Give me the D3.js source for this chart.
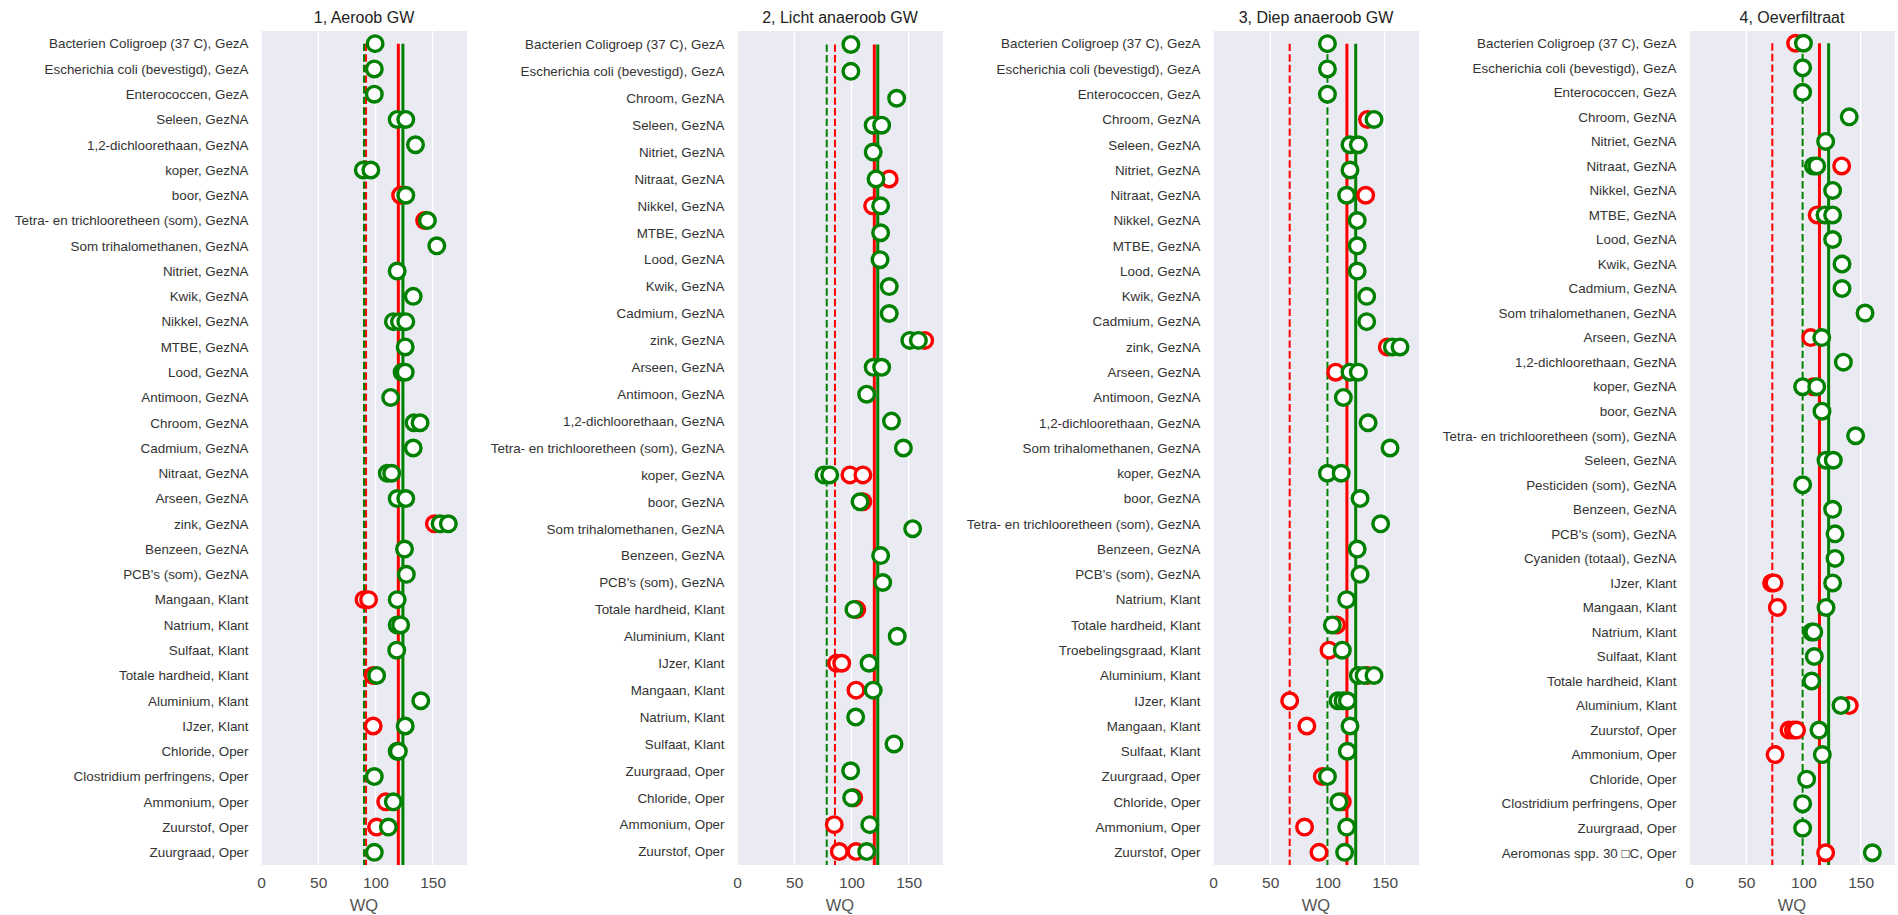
<!DOCTYPE html>
<html>
<head>
<meta charset="utf-8">
<script src="https://cdn.jsdelivr.net/npm/d3@7"></script>
<style>
  html, body { margin: 0; padding: 0; background: #ffffff; }
  svg { display: block; }
  .ylab text { font-family: "Liberation Sans", Arial, sans-serif; font-size: 13.4px; fill: #333333; }
  .xax text { font-family: "Liberation Sans", Arial, sans-serif; font-size: 15.5px; fill: #4a4a4a; }
  .title { font-family: "Liberation Sans", Arial, sans-serif; font-size: 16px; fill: #222222; }
  .xlabel { font-family: "Liberation Sans", Arial, sans-serif; font-size: 16.5px; fill: #555555; }
</style>
</head>
<body>
<svg id="chart" width="1898" height="915"></svg>
<script>
// ---- data ---------------------------------------------------------------
const panelTitles = ["1, Aeroob GW", "2, Licht anaeroob GW", "3, Diep anaeroob GW", "4, Oeverfiltraat"];
const xTicks = [0, 50, 100, 150];

const cats1 = [
  "Bacterien Coligroep (37 C), GezA", "Escherichia coli (bevestigd), GezA", "Enterococcen, GezA",
  "Seleen, GezNA", "1,2-dichloorethaan, GezNA", "koper, GezNA", "boor, GezNA",
  "Tetra- en trichlooretheen (som), GezNA", "Som trihalomethanen, GezNA", "Nitriet, GezNA",
  "Kwik, GezNA", "Nikkel, GezNA", "MTBE, GezNA", "Lood, GezNA", "Antimoon, GezNA",
  "Chroom, GezNA", "Cadmium, GezNA", "Nitraat, GezNA", "Arseen, GezNA", "zink, GezNA",
  "Benzeen, GezNA", "PCB's (som), GezNA", "Mangaan, Klant", "Natrium, Klant", "Sulfaat, Klant",
  "Totale hardheid, Klant", "Aluminium, Klant", "IJzer, Klant", "Chloride, Oper",
  "Clostridium perfringens, Oper", "Ammonium, Oper", "Zuurstof, Oper", "Zuurgraad, Oper"
];
const red1 = [[], [], [], [], [], [], [122], [143], [], [], [], [], [], [], [], [], [], [], [], [151.5],
  [], [], [90, 94], [], [], [98], [], [98], [], [], [109], [101], []];
const green1 = [[99.7], [99], [99], [119, 126.5], [135], [89.4, 96], [126.5], [145.4], [153.6], [119],
  [133], [115.7, 121, 126.5], [126], [123.3, 126], [113.3], [133.7, 139], [133], [110.4, 114.2],
  [119, 126.5], [156.5, 163.7], [125.4], [127], [119], [119, 122], [118.6], [101], [139.6], [126],
  [119, 120], [99], [115.6], [111.3], [99]];

const cats2 = [
  "Bacterien Coligroep (37 C), GezA", "Escherichia coli (bevestigd), GezA", "Chroom, GezNA",
  "Seleen, GezNA", "Nitriet, GezNA", "Nitraat, GezNA", "Nikkel, GezNA", "MTBE, GezNA",
  "Lood, GezNA", "Kwik, GezNA", "Cadmium, GezNA", "zink, GezNA", "Arseen, GezNA",
  "Antimoon, GezNA", "1,2-dichloorethaan, GezNA", "Tetra- en trichlooretheen (som), GezNA",
  "koper, GezNA", "boor, GezNA", "Som trihalomethanen, GezNA", "Benzeen, GezNA",
  "PCB's (som), GezNA", "Totale hardheid, Klant", "Aluminium, Klant", "IJzer, Klant",
  "Mangaan, Klant", "Natrium, Klant", "Sulfaat, Klant", "Zuurgraad, Oper", "Chloride, Oper",
  "Ammonium, Oper", "Zuurstof, Oper"
];
const red2 = [[], [], [], [], [], [133], [118.5], [], [], [], [], [164], [], [], [], [],
  [98.7, 110], [110], [], [], [], [104.6], [], [87, 91.5], [104], [], [], [], [102], [85], [89.4, 104]];
const green2 = [[99.5], [99.5], [139.5], [119, 126.4], [119], [121.5], [125.5], [125.5], [125], [133],
  [133], [151, 158.5], [119, 126.4], [113.3], [135], [145.4], [76, 81], [107.5], [153.5], [125.5],
  [127.3], [102.2], [140], [115.4], [119], [103.7], [137.2], [99.3], [100.2], [116], [113.3]];

const cats3 = [
  "Bacterien Coligroep (37 C), GezA", "Escherichia coli (bevestigd), GezA", "Enterococcen, GezA",
  "Chroom, GezNA", "Seleen, GezNA", "Nitriet, GezNA", "Nitraat, GezNA", "Nikkel, GezNA",
  "MTBE, GezNA", "Lood, GezNA", "Kwik, GezNA", "Cadmium, GezNA", "zink, GezNA", "Arseen, GezNA",
  "Antimoon, GezNA", "1,2-dichloorethaan, GezNA", "Som trihalomethanen, GezNA", "koper, GezNA",
  "boor, GezNA", "Tetra- en trichlooretheen (som), GezNA", "Benzeen, GezNA", "PCB's (som), GezNA",
  "Natrium, Klant", "Totale hardheid, Klant", "Troebelingsgraad, Klant", "Aluminium, Klant",
  "IJzer, Klant", "Mangaan, Klant", "Sulfaat, Klant", "Zuurgraad, Oper", "Chloride, Oper",
  "Ammonium, Oper", "Zuurstof, Oper"
];
const red3 = [[], [], [], [135], [], [], [133.4], [], [], [], [], [], [152.3], [107.2], [], [], [], [],
  [], [], [], [], [], [108], [101.4], [135], [67], [82], [], [95.5], [113], [80], [92.6]];
const green3 = [[100], [100], [100], [140.7], [119.7, 127], [119.7], [116.8], [126], [126], [126],
  [134.3], [134.3], [156.7, 163.4], [119.7, 127], [113.9], [135.5], [154.7], [100, 112], [128.5],
  [146.5], [126], [128.5], [116.8], [104.3], [113], [127, 132, 140.7], [109.2, 113.6, 117.4],
  [119.7], [117.4], [100], [110], [116.8], [115]];

const cats4 = [
  "Bacterien Coligroep (37 C), GezA", "Escherichia coli (bevestigd), GezA", "Enterococcen, GezA",
  "Chroom, GezNA", "Nitriet, GezNA", "Nitraat, GezNA", "Nikkel, GezNA", "MTBE, GezNA",
  "Lood, GezNA", "Kwik, GezNA", "Cadmium, GezNA", "Som trihalomethanen, GezNA", "Arseen, GezNA",
  "1,2-dichloorethaan, GezNA", "koper, GezNA", "boor, GezNA",
  "Tetra- en trichlooretheen (som), GezNA", "Seleen, GezNA", "Pesticiden (som), GezNA",
  "Benzeen, GezNA", "PCB's (som), GezNA", "Cyaniden (totaal), GezNA", "IJzer, Klant",
  "Mangaan, Klant", "Natrium, Klant", "Sulfaat, Klant", "Totale hardheid, Klant",
  "Aluminium, Klant", "Zuurstof, Oper", "Ammonium, Oper", "Chloride, Oper",
  "Clostridium perfringens, Oper", "Zuurgraad, Oper", "Aeromonas spp. 30 \u25A1C, Oper"
];
const red4 = [[93.2], [], [], [], [], [133.4], [], [112], [], [], [], [], [106.3], [], [108.7], [], [],
  [], [], [], [], [], [72.2, 74.3], [77.2], [], [], [], [140], [87.4, 91.2, 94], [75.2], [], [], [], [119.4]];
const green4 = [[100], [99.3], [99.3], [140], [119.4], [108.7, 111.6], [125.5], [118.8, 125.5], [125.5],
  [133.7], [133.7], [153.8], [116], [134.9], [99.3, 111.6], [116.2], [145.6], [119.7, 126.1], [99.3],
  [125.5], [127.6], [127.6], [125.5], [119.7], [107.2, 109], [109.5], [107.2], [132.8], [113.6],
  [116.5], [102.8], [99.3], [99.3], [160.2]];

// reference levels per panel
const redSolid = [120, 120, 117, 114];
const greenSolid = [124, 123, 124.7, 122];
const redDashed = [91.8, 85.6, 67, 72.8];
const greenDashed = [90, 78.4, 100, 99.3];

const categories = [cats1, cats2, cats3, cats4];
const redValues = [red1, red2, red3, red4];
const greenValues = [green1, green2, green3, green4];

// ---- layout -------------------------------------------------------------
const firstLeft = 261, panelStep = 476, panelW = 206;
const plotTop = 31, plotH = 834;
const RED = "#ff0000", GREEN = "#008000";

const svg = d3.select("#chart");

panelTitles.forEach((title, p) => {
  const left = firstLeft + p * panelStep;
  const g = svg.append("g").attr("transform", `translate(${left},${plotTop})`);

  const x = d3.scaleLinear().domain([0, 180]).range([0, panelW]);
  const y = d3.scalePoint().domain(categories[p]).range([0, plotH]).padding(0.5);

  // background and grid
  g.append("rect").attr("width", panelW).attr("height", plotH).attr("fill", "#eaeaf2");
  g.selectAll("line.grid").data(xTicks).join("line")
    .attr("class", "grid")
    .attr("x1", d => x(d)).attr("x2", d => x(d))
    .attr("y1", 0).attr("y2", plotH)
    .attr("stroke", "#ffffff").attr("stroke-width", 1.5);

  // reference lines from first row down to the bottom
  const y0 = y(categories[p][0]);
  const refs = [
    { v: redSolid[p], c: RED, w: 3, dash: null },
    { v: greenSolid[p], c: GREEN, w: 3, dash: null },
    { v: redDashed[p], c: RED, w: 2, dash: "7.4,3.2" },
    { v: greenDashed[p], c: GREEN, w: 2, dash: "7.4,3.2" }
  ];
  g.selectAll("line.ref").data(refs).join("line")
    .attr("class", "ref")
    .attr("x1", d => x(d.v)).attr("x2", d => x(d.v))
    .attr("y1", y0).attr("y2", plotH)
    .attr("stroke", d => d.c).attr("stroke-width", d => d.w)
    .attr("stroke-dasharray", d => d.dash);

  // points: red below, green on top
  const flat = (vals) => vals.flatMap((arr, i) => arr.map(v => ({ cat: categories[p][i], v })));
  [[redValues[p], RED], [greenValues[p], GREEN]].forEach(([vals, col]) => {
    g.append("g").selectAll("circle").data(flat(vals)).join("circle")
      .attr("cx", d => x(d.v)).attr("cy", d => y(d.cat))
      .attr("r", 7.8)
      .attr("fill", "#ffffff").attr("stroke", col).attr("stroke-width", 3.4);
  });

  // axes
  const ya = g.append("g").attr("class", "ylab")
    .call(d3.axisLeft(y).tickSize(0).tickPadding(12.5));
  ya.select(".domain").remove();

  const xa = g.append("g").attr("class", "xax").attr("transform", `translate(0,${plotH})`)
    .call(d3.axisBottom(x).tickValues(xTicks).tickSize(0).tickPadding(12));
  xa.select(".domain").remove();

  // title and axis label
  svg.append("text").attr("class", "title")
    .attr("x", left + panelW / 2).attr("y", 23)
    .attr("text-anchor", "middle").text(title);
  svg.append("text").attr("class", "xlabel")
    .attr("x", left + panelW / 2).attr("y", 911)
    .attr("text-anchor", "middle").text("WQ");
});
</script>
</body>
</html>
